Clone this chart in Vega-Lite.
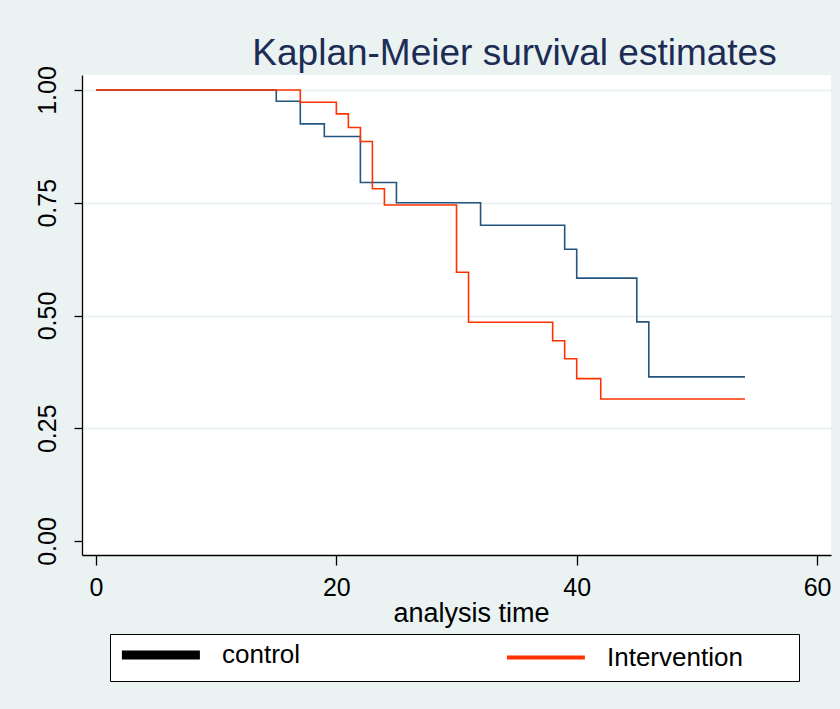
{
  "$schema": "https://vega.github.io/schema/vega-lite/v6.json",
  "autosize": {"type": "none"},
  "width": 749,
  "height": 480,
  "padding": {"left": 82, "top": 75, "right": 9, "bottom": 154},
  "background": "#eaf2f2",
  "config": {
    "view": {"fill": "white", "stroke": null},
    "font": "Liberation Sans"
  },
  "title": {
    "text": "Kaplan-Meier survival estimates",
    "anchor": "middle",
    "dx": 58,
    "dy": 8,
    "offset": 1,
    "font": "Liberation Sans",
    "fontSize": 37,
    "fontWeight": "normal",
    "color": "#1c2c55"
  },
  "data": {
    "values": [
      {"group": "control", "time": 0, "surv": 1.0},
      {"group": "control", "time": 15, "surv": 0.975},
      {"group": "control", "time": 17, "surv": 0.925},
      {"group": "control", "time": 19, "surv": 0.897},
      {"group": "control", "time": 22, "surv": 0.795},
      {"group": "control", "time": 25, "surv": 0.75},
      {"group": "control", "time": 32, "surv": 0.7},
      {"group": "control", "time": 39, "surv": 0.647},
      {"group": "control", "time": 40, "surv": 0.583},
      {"group": "control", "time": 45, "surv": 0.486},
      {"group": "control", "time": 46, "surv": 0.364},
      {"group": "control", "time": 54, "surv": 0.364},
      {"group": "Intervention", "time": 0, "surv": 1.0},
      {"group": "Intervention", "time": 17, "surv": 0.973},
      {"group": "Intervention", "time": 20, "surv": 0.947},
      {"group": "Intervention", "time": 21, "surv": 0.917},
      {"group": "Intervention", "time": 22, "surv": 0.886},
      {"group": "Intervention", "time": 23, "surv": 0.781},
      {"group": "Intervention", "time": 24, "surv": 0.745},
      {"group": "Intervention", "time": 30, "surv": 0.596},
      {"group": "Intervention", "time": 31, "surv": 0.485},
      {"group": "Intervention", "time": 38, "surv": 0.444},
      {"group": "Intervention", "time": 39, "surv": 0.404},
      {"group": "Intervention", "time": 40, "surv": 0.36},
      {"group": "Intervention", "time": 42, "surv": 0.315},
      {"group": "Intervention", "time": 54, "surv": 0.315}
    ]
  },
  "encoding": {
    "x": {
      "field": "time",
      "type": "quantitative",
      "scale": {"domain": [-1.165, 61.16], "nice": false, "zero": false},
      "axis": {
        "values": [0, 20, 40, 60],
        "title": "analysis time",
        "titleFont": "Liberation Sans",
        "titleFontSize": 27,
        "titleFontWeight": "normal",
        "titleColor": "black",
        "titlePadding": 0,
        "titleX": 389,
        "labelFont": "Liberation Sans",
        "labelFontSize": 25,
        "labelColor": "black",
        "labelPadding": 10,
        "labelFlush": false,
        "tickSize": 10,
        "tickColor": "black",
        "tickWidth": 1.3,
        "domainColor": "black",
        "domainWidth": 1.3,
        "grid": false
      }
    },
    "y": {
      "field": "surv",
      "type": "quantitative",
      "scale": {"domain": [-0.031, 1.0333], "nice": false, "zero": false},
      "axis": {
        "values": [0, 0.25, 0.5, 0.75, 1],
        "format": ".2f",
        "title": null,
        "labelFont": "Liberation Sans",
        "labelFontSize": 25,
        "labelColor": "black",
        "labelAngle": -90,
        "labelAlign": "center",
        "labelBaseline": "bottom",
        "labelPadding": 14,
        "labelFlush": false,
        "tickSize": 8,
        "tickColor": "black",
        "tickWidth": 1.3,
        "domainColor": "black",
        "domainWidth": 1.3,
        "grid": true,
        "gridColor": "#e6efef",
        "gridWidth": 1.5,
        "gridOpacity": {"condition": {"test": "datum.value === 0", "value": 0}, "value": 1}
      }
    }
  },
  "layer": [
    {
      "mark": {"type": "line", "interpolate": "step-after", "strokeWidth": 0.01},
      "encoding": {
        "color": {
          "field": "group",
          "type": "nominal",
          "scale": {"domain": ["control", "Intervention"], "range": ["#000000", "#ff3300"]},
          "legend": {
            "orient": "none",
            "legendX": 28,
            "legendY": 559,
            "direction": "horizontal",
            "title": " ",
            "titleOrient": "right",
            "titlePadding": 48,
            "fillColor": "white",
            "strokeColor": "black",
            "padding": 8,
            "columnPadding": 197,
            "labelFont": "Liberation Sans",
            "labelFontSize": 26,
            "labelColor": "black",
            "labelOffset": 78,
            "symbolType": "M-0.7,0H5.3",
            "symbolSize": 676,
            "symbolStrokeWidth": 0,
            "encode": {
              "symbols": {
                "update": {
                  "strokeWidth": {"signal": "datum.value === 'control' ? 9 : 4"},
                  "fill": {"value": "transparent"},
                  "opacity": {"value": 1}
                }
              }
            }
          }
        }
      }
    },
    {
      "mark": {"type": "line", "interpolate": "step-after", "strokeWidth": 1.6},
      "encoding": {
        "stroke": {
          "field": "group",
          "type": "nominal",
          "scale": {"domain": ["control", "Intervention"], "range": ["#24557f", "#ff3300"]},
          "legend": null
        }
      }
    }
  ]
}
